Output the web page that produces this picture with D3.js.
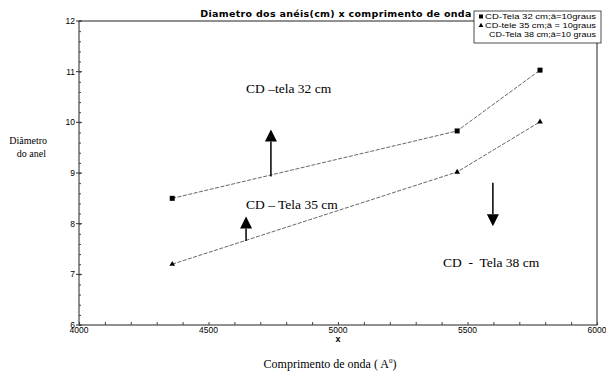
<!DOCTYPE html>
<html>
<head>
<meta charset="utf-8">
<script src="https://cdn.jsdelivr.net/npm/d3@7"></script>
<style>
  body { margin: 0; background: #fff; }
  svg { display: block; }
  .serif { font-family: "Liberation Serif", "DejaVu Serif", "Times New Roman", Times, serif; }
  .sans { font-family: "Liberation Sans", Arial, sans-serif; }
  .wide { font-family: "DejaVu Sans", Verdana, sans-serif; }
</style>
</head>
<body>
<div id="chart"></div>
<script>
// wavelength (Angstrom) and ring diameter (cm)
const wavelengths = [4360, 5460, 5780];
const tela32 = [8.5, 9.83, 11.03];
const tela35 = [7.2, 9.02, 10.01];

const xTicks = [4000, 4500, 5000, 5500, 6000];
const yTicks = [6, 7, 8, 9, 10, 11, 12];

const legendLabels = [
    "CD-Tela 32 cm;\u00e2=10graus",
    "CD-tele 35 cm;\u00e2 = 10graus",
    "CD-Tela 38 cm;\u00e2=10 graus"
];

// annotations in data units: [x, yFrom, yTo]
const arrows = [
    [4741, 8.93, 9.86],
    [4645, 7.66, 8.14],
    [5598, 8.81, 7.95]
];
const notes = [
    [4645, 10.57, "CD \u2013tela 32 cm"],
    [4645, 8.28, "CD \u2013 Tela 35 cm"],
    [5405, 7.15, "CD  -  Tela 38 cm"]
];

const W = 606, H = 374;
const margin = {top: 21, right: 9, bottom: 49, left: 79};

const svg = d3.select("#chart").append("svg")
    .attr("width", W)
    .attr("height", H);

const x = d3.scaleLinear().domain([4000, 6000]).range([margin.left, W - margin.right]);
const y = d3.scaleLinear().domain([6, 12]).range([H - margin.bottom, margin.top]);

// frame
svg.append("rect")
    .attr("x", x(4000)).attr("y", y(12))
    .attr("width", x(6000) - x(4000)).attr("height", y(6) - y(12))
    .attr("fill", "none").attr("stroke", "#222").attr("stroke-width", 1);

// bottom axis, ticks pointing inside
const xAxis = svg.append("g")
    .attr("transform", `translate(0,${y(6)})`)
    .call(d3.axisBottom(x).tickValues(d3.range(4000, 6001, 100)).tickSize(-3).tickFormat(""));
xAxis.select(".domain").remove();
xAxis.selectAll("line").attr("stroke", "#444");

svg.append("g")
    .selectAll("text")
    .data(xTicks)
    .enter().append("text")
    .attr("class", "sans")
    .attr("x", d => x(d))
    .attr("y", y(6) + 8)
    .attr("text-anchor", "middle")
    .attr("font-size", 8.5)
    .text(d => d);

// left axis
const yAxis = svg.append("g")
    .attr("transform", `translate(${x(4000)},0)`)
    .call(d3.axisLeft(y).tickValues(d3.range(6, 12.01, 0.2)).tickSize(-2).tickFormat(""));
yAxis.select(".domain").remove();
yAxis.selectAll("line").attr("stroke", "#444");

svg.append("g")
    .selectAll("line")
    .data(yTicks)
    .enter().append("line")
    .attr("x1", x(4000) - 3).attr("x2", x(4000) + 3)
    .attr("y1", d => y(d)).attr("y2", d => y(d))
    .attr("stroke", "#333");

svg.append("g")
    .selectAll("text")
    .data(yTicks)
    .enter().append("text")
    .attr("class", "sans")
    .attr("x", x(4000) - 4)
    .attr("y", d => y(d) + 3)
    .attr("text-anchor", "end")
    .attr("font-size", 8.5)
    .text(d => d);

// axis titles
svg.append("text")
    .attr("class", "sans")
    .attr("x", x(5000)).attr("y", y(6) + 17)
    .attr("text-anchor", "middle")
    .attr("font-weight", "bold").attr("font-size", 9)
    .text("x");

const xTitle = svg.append("text")
    .attr("class", "serif")
    .attr("x", 330).attr("y", 368)
    .attr("text-anchor", "middle")
    .attr("font-size", 12);
xTitle.append("tspan").text("Comprimento de onda  ( A");
xTitle.append("tspan").attr("dy", -5).attr("font-size", 7).text("0");
xTitle.append("tspan").attr("dy", 5).text(")");

svg.append("text")
    .attr("class", "serif")
    .attr("x", 47).attr("y", 144)
    .attr("text-anchor", "end")
    .attr("font-size", 10)
    .text("Di\u00e2metro");
svg.append("text")
    .attr("class", "serif")
    .attr("x", 46).attr("y", 157)
    .attr("text-anchor", "end")
    .attr("font-size", 10)
    .text("do anel");

// title
svg.append("text")
    .attr("class", "wide")
    .attr("x", 336).attr("y", 17)
    .attr("text-anchor", "middle")
    .attr("font-weight", "bold").attr("font-size", 9.5)
    .attr("letter-spacing", 0.3)
    .text("Diametro dos an\u00e9is(cm) x comprimento de onda");

// lines
const line = d3.line()
    .x(d => x(d[0]))
    .y(d => y(d[1]));

[tela32, tela35].forEach(vals => {
    svg.append("path")
        .datum(wavelengths.map((w, i) => [w, vals[i]]))
        .attr("d", line)
        .attr("fill", "none")
        .attr("stroke", "#555")
        .attr("stroke-width", 0.9)
        .attr("stroke-dasharray", "4,1.5");
});

svg.append("g")
    .selectAll("rect")
    .data(wavelengths.map((w, i) => [w, tela32[i]]))
    .enter().append("rect")
    .attr("x", d => x(d[0]) - 2.5).attr("y", d => y(d[1]) - 2.5)
    .attr("width", 5).attr("height", 5)
    .attr("fill", "#000");

svg.append("g")
    .selectAll("path")
    .data(wavelengths.map((w, i) => [w, tela35[i]]))
    .enter().append("path")
    .attr("transform", d => `translate(${x(d[0])},${y(d[1])})`)
    .attr("d", d3.symbol(d3.symbolTriangle, 14))
    .attr("fill", "#000");

// arrows
arrows.forEach(a => {
    const ax = x(a[0]), y0 = y(a[1]), y1 = y(a[2]);
    const dir = y1 < y0 ? 1 : -1;
    const headLen = 12, headW = 6;
    svg.append("line")
        .attr("x1", ax).attr("x2", ax)
        .attr("y1", y0).attr("y2", y1 + dir * headLen)
        .attr("stroke", "#000").attr("stroke-width", 1.5);
    svg.append("path")
        .attr("d", `M${ax},${y1} L${ax - headW},${y1 + dir * headLen} L${ax + headW},${y1 + dir * headLen} Z`)
        .attr("fill", "#000");
});

svg.append("g")
    .selectAll("text")
    .data(notes)
    .enter().append("text")
    .attr("class", "serif")
    .attr("x", d => x(d[0]))
    .attr("y", d => y(d[1]))
    .attr("font-size", 13.5)
    .style("white-space", "pre")
    .text(d => d[2]);

// legend
const lg = svg.append("g");
lg.append("rect")
    .attr("x", 474).attr("y", 11)
    .attr("width", 127).attr("height", 32)
    .attr("fill", "#fff").attr("stroke", "#222").attr("stroke-width", 0.8);

legendLabels.forEach((t, i) => {
    const ly = 19 + i * 9;
    if (i === 0) {
        lg.append("rect").attr("x", 479).attr("y", ly - 4.5).attr("width", 4).attr("height", 4).attr("fill", "#000");
    } else if (i === 1) {
        lg.append("path").attr("transform", `translate(481,${ly - 2.5})`)
            .attr("d", d3.symbol(d3.symbolTriangle, 10)).attr("fill", "#000");
    }
    lg.append("text")
        .attr("class", "sans")
        .attr("x", i === 2 ? 489 : 485).attr("y", ly)
        .attr("font-size", 8)
        .attr("textLength", i === 2 ? 107 : 111)
        .attr("lengthAdjust", "spacingAndGlyphs")
        .text(t);
});
</script>
</body>
</html>
